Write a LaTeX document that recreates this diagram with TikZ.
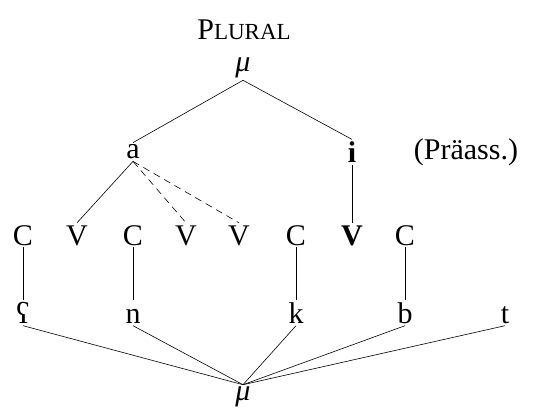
\documentclass[tikz,border=0pt]{standalone}
\usepackage{fontspec}
\setmainfont{Liberation Serif}
\begin{document}
\begin{tikzpicture}[x=1pt,y=1pt,
  every node/.style={font=\fontsize{30}{34}\selectfont, inner sep=2pt},
  seg/.style={text height=20pt, text depth=0pt},
  row2/.style={text height=21pt, text depth=0pt},
  ln/.style={line width=0.6pt},
  dsh/.style={line width=0.6pt, dash pattern=on 7pt off 5pt}]
\useasboundingbox (0,0) rectangle (558,-408);
\node (pl) at (244,-30) {P{\fontsize{23}{26}\selectfont LURAL}};
\node (mt) at (243,-68) {\textit{μ}};
\node (a) at (133,-152) {a};
\node (i) at (352,-152) {\textbf{i}};
\node (pr) at (466,-152) {(Präass.)};
\node[seg] (c1) at (23,-235) {C};
\node[seg] (v1) at (77,-235) {V};
\node[seg] (c2) at (133,-235) {C};
\node[seg] (v2) at (186,-235) {V};
\node[seg] (v3) at (239,-235) {V};
\node[seg] (c3) at (296,-235) {C};
\node[seg] (v4) at (352,-235) {\textbf{V}};
\node[seg] (c4) at (405,-235) {C};
\node[row2] (r1) at (23,-313) {ʕ};
\node[row2] (r2) at (133,-313) {n};
\node[row2] (r3) at (296,-313) {k};
\node[row2] (r4) at (405,-313) {b};
\node[row2] (r5) at (505,-313) {t};
\node (mb) at (243,-397) {\textit{μ}};
\draw[ln] (mt.south) -- (a.north);
\draw[ln] (mt.south) -- (i.north);
\draw[ln] (a.south) -- (v1.north);
\draw[dsh] (a.south) -- (v2.north);
\draw[dsh] (a.south) -- (v3.north);
\draw[ln] (i.south) -- (v4.north);
\draw[ln] (c1.south) -- (r1.north);
\draw[ln] (c2.south) -- (r2.north);
\draw[ln] (c3.south) -- (r3.north);
\draw[ln] (c4.south) -- (r4.north);
\foreach \n in {r1,r2,r3,r4,r5} \draw[ln] (\n.south) -- (mb.north);
\end{tikzpicture}
\end{document}
